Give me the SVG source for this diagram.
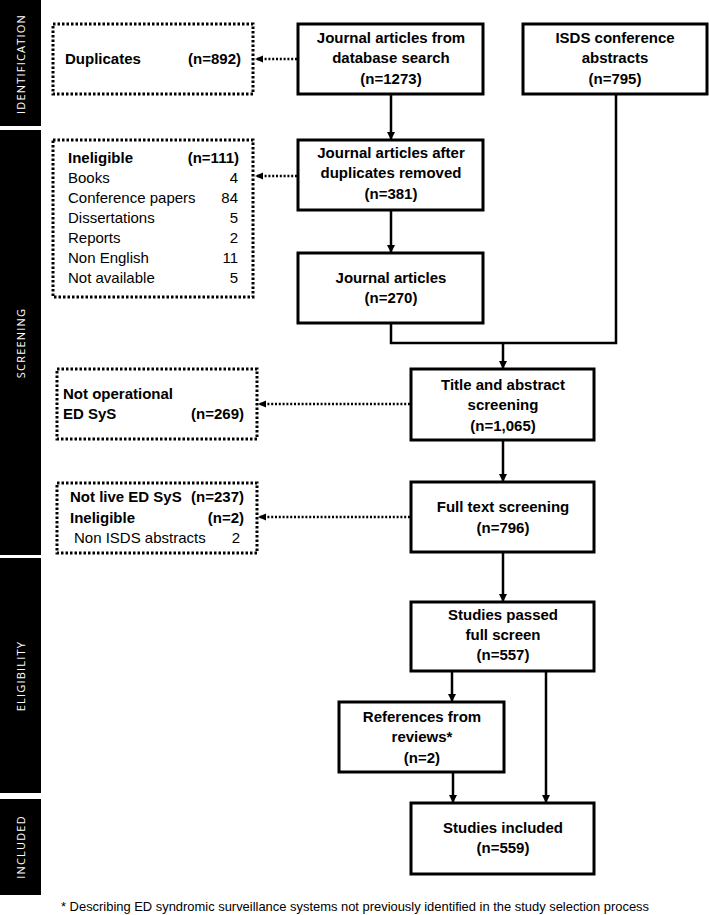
<svg xmlns="http://www.w3.org/2000/svg" width="709" height="915" viewBox="0 0 709 915">
<style>
.box{fill:#fff;stroke:#000;stroke-width:3}
.dbox{fill:#fff;stroke:#000;stroke-width:3;stroke-dasharray:2.5 2}
.b{font-family:"Liberation Sans",Arial,sans-serif;font-weight:bold;font-size:15px;fill:#000}
.r{font-family:"Liberation Sans",Arial,sans-serif;font-size:15px;fill:#000}
.c{text-anchor:middle}
.e{text-anchor:end}
.side{font-family:"Open Sans","DejaVu Sans",sans-serif;font-size:11px;fill:#fff;letter-spacing:1.2px;text-anchor:middle}
.ln{fill:none;stroke:#000;stroke-width:2.5}
.dl{fill:none;stroke:#000;stroke-width:2.5;stroke-dasharray:2 1.8}
</style>
<defs>
<marker id="ah" markerWidth="8" markerHeight="8" refX="7" refY="4" orient="auto" markerUnits="userSpaceOnUse">
<path d="M0,0 L8,4 L0,8 Z" fill="#000"/>
</marker>
<marker id="dh" markerWidth="8" markerHeight="8" refX="7" refY="4" orient="auto" markerUnits="userSpaceOnUse">
<path d="M0,0.5 L8,4 L0,7.5 Z" fill="#000"/>
</marker>
</defs>
<rect width="709" height="915" fill="#fff"/>
<g id="sidebar">
<rect x="0" y="0" width="41" height="126" fill="#000"/>
<rect x="0" y="130" width="41" height="425" fill="#000"/>
<rect x="0" y="558" width="41" height="235" fill="#000"/>
<rect x="0" y="799" width="41" height="96" fill="#000"/>
<text class="side" transform="translate(25,64) rotate(-90)">IDENTIFICATION</text>
<text class="side" transform="translate(25,343) rotate(-90)">SCREENING</text>
<text class="side" transform="translate(25,676) rotate(-90)">ELIGIBILITY</text>
<text class="side" transform="translate(25,847) rotate(-90)">INCLUDED</text>
</g>
<g id="connectors">
<line class="ln" x1="391" y1="94" x2="391" y2="139" marker-end="url(#ah)"/>
<line class="ln" x1="391" y1="210" x2="391" y2="252" marker-end="url(#ah)"/>
<polyline class="ln" points="391,323 391,343 616,343 616,94"/>
<line class="ln" x1="503" y1="343" x2="503" y2="368" marker-end="url(#ah)"/>
<line class="ln" x1="503" y1="440" x2="503" y2="481" marker-end="url(#ah)"/>
<line class="ln" x1="503" y1="552" x2="503" y2="601" marker-end="url(#ah)"/>
<line class="ln" x1="452" y1="671" x2="452" y2="701" marker-end="url(#ah)"/>
<line class="ln" x1="546" y1="671" x2="546" y2="802" marker-end="url(#ah)"/>
<line class="ln" x1="453" y1="772" x2="453" y2="802" marker-end="url(#ah)"/>
<line class="dl" x1="297" y1="59" x2="256" y2="59" marker-end="url(#dh)"/>
<line class="dl" x1="297" y1="176" x2="256" y2="176" marker-end="url(#dh)"/>
<line class="dl" x1="410" y1="404" x2="259" y2="404" marker-end="url(#dh)"/>
<line class="dl" x1="410" y1="517" x2="259" y2="517" marker-end="url(#dh)"/>
</g>
<g id="duplicates">
<rect class="dbox" x="53" y="24" width="200" height="70"/>
<text class="b" x="65" y="64">Duplicates</text>
<text class="b e" x="241" y="64">(n=892)</text>
</g>
<g id="ineligible1">
<rect class="dbox" x="53" y="140" width="200" height="157"/>
<text class="b" x="68" y="163">Ineligible</text>
<text class="b e" x="239" y="163">(n=111)</text>
<text class="r" x="68" y="183">Books</text>
<text class="r e" x="238" y="183">4</text>
<text class="r" x="68" y="203">Conference papers</text>
<text class="r e" x="238" y="203">84</text>
<text class="r" x="68" y="223">Dissertations</text>
<text class="r e" x="238" y="223">5</text>
<text class="r" x="68" y="243">Reports</text>
<text class="r e" x="238" y="243">2</text>
<text class="r" x="68" y="263">Non English</text>
<text class="r e" x="238" y="263">11</text>
<text class="r" x="68" y="283">Not available</text>
<text class="r e" x="238" y="283">5</text>
</g>
<g id="journal-search">
<rect class="box" x="298" y="24" width="185" height="70"/>
<text class="b c" x="391" y="43">Journal articles from</text>
<text class="b c" x="391" y="63">database search</text>
<text class="b c" x="391" y="84">(n=1273)</text>
</g>
<g id="isds">
<rect class="box" x="523" y="24" width="184" height="70"/>
<text class="b c" x="615" y="43">ISDS conference</text>
<text class="b c" x="615" y="63">abstracts</text>
<text class="b c" x="615" y="84">(n=795)</text>
</g>
<g id="journal-dedup">
<rect class="box" x="298" y="140" width="185" height="70"/>
<text class="b c" x="391" y="158">Journal articles after</text>
<text class="b c" x="391" y="178">duplicates removed</text>
<text class="b c" x="391" y="199">(n=381)</text>
</g>
<g id="journal-articles">
<rect class="box" x="298" y="253" width="185" height="70"/>
<text class="b c" x="391" y="283">Journal articles</text>
<text class="b c" x="391" y="303">(n=270)</text>
</g>
<g id="not-operational">
<rect class="dbox" x="57" y="369" width="200" height="70"/>
<text class="b" x="63" y="399">Not operational</text>
<text class="b" x="63" y="419">ED SyS</text>
<text class="b e" x="244" y="419">(n=269)</text>
</g>
<g id="title-abstract">
<rect class="box" x="411" y="369" width="183" height="71"/>
<text class="b c" x="503" y="390">Title and abstract</text>
<text class="b c" x="503" y="410">screening</text>
<text class="b c" x="503" y="431">(n=1,065)</text>
</g>
<g id="not-live">
<rect class="dbox" x="57" y="483" width="200" height="70"/>
<text class="b" x="70" y="502">Not live ED SyS</text>
<text class="b e" x="244" y="502">(n=237)</text>
<text class="b" x="70" y="523">Ineligible</text>
<text class="b e" x="244" y="523">(n=2)</text>
<text class="r" x="74" y="543">Non ISDS abstracts</text>
<text class="r e" x="240" y="543">2</text>
</g>
<g id="full-text">
<rect class="box" x="411" y="482" width="183" height="70"/>
<text class="b c" x="503" y="512">Full text screening</text>
<text class="b c" x="503" y="533">(n=796)</text>
</g>
<g id="studies-passed">
<rect class="box" x="411" y="602" width="183" height="69"/>
<text class="b c" x="503" y="620">Studies passed</text>
<text class="b c" x="503" y="640">full screen</text>
<text class="b c" x="503" y="660">(n=557)</text>
</g>
<g id="references">
<rect class="box" x="339" y="702" width="165" height="70"/>
<text class="b c" x="422" y="722">References from</text>
<text class="b c" x="422" y="742">reviews*</text>
<text class="b c" x="422" y="763">(n=2)</text>
</g>
<g id="studies-included">
<rect class="box" x="411" y="803" width="183" height="71"/>
<text class="b c" x="503" y="833">Studies included</text>
<text class="b c" x="503" y="853">(n=559)</text>
</g>
<text class="r" x="61" y="911" style="font-size:12.8px" textLength="588" lengthAdjust="spacingAndGlyphs">* Describing ED syndromic surveillance systems not previously identified in the study selection process</text>
</svg>
